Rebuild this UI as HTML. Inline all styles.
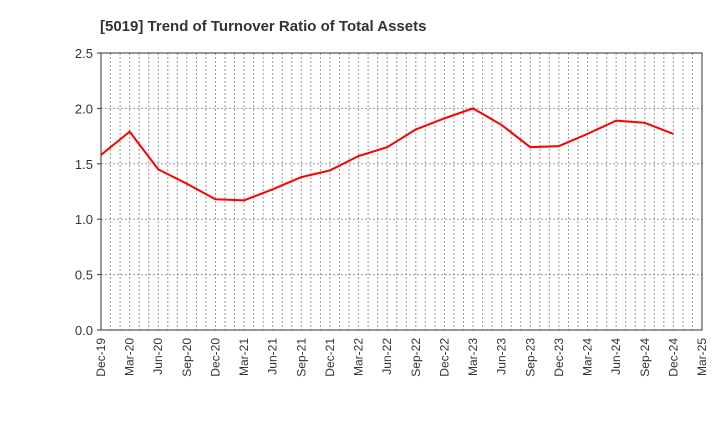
<!DOCTYPE html>
<html><head><meta charset="utf-8"><style>body{margin:0;background:#fff}svg{font-family:"Liberation Sans",sans-serif}</style></head>
<body>
<svg id="c" width="720" height="440">
<text x="100" y="31" font-size="15" font-weight="bold" fill="#333">[5019]  Trend of Turnover Ratio of Total Assets</text>
</svg>
<script>
const categories=["Dec-19","Mar-20","Jun-20","Sep-20","Dec-20","Mar-21","Jun-21","Sep-21","Dec-21","Mar-22","Jun-22","Sep-22","Dec-22","Mar-23","Jun-23","Sep-23","Dec-23","Mar-24","Jun-24","Sep-24","Dec-24","Mar-25"];
const values=[1.58,1.79,1.45,1.32,1.18,1.17,1.27,1.38,1.44,1.57,1.65,1.81,1.91,2.00,1.85,1.65,1.66,1.77,1.89,1.87,1.77];
const yTicks=[0.0,0.5,1.0,1.5,2.0,2.5];
const svg=document.getElementById('c');const NS='http://www.w3.org/2000/svg';
const L=101,R=702,T=53,B=330;
const x=i=>L+(R-L)*i/(categories.length-1);
const y=v=>B-(B-T)*v/2.5;
function mk(t,a){const e=document.createElementNS(NS,t);for(const k in a)e.setAttribute(k,a[k]);svg.appendChild(e);return e;}
for(let m=1;m<(categories.length-1)*3;m++){const xx=L+(R-L)*m/((categories.length-1)*3);
const g=mk('line',{x1:xx,x2:xx,y1:T,y2:B,stroke:'#999','stroke-dasharray':'2,2'});

}
yTicks.forEach(v=>{if(v>0&&v<2.5){const g=mk('line',{x1:L,x2:R,y1:y(v),y2:y(v),stroke:'#999','stroke-dasharray':'2,2'});

}
const t=mk('text',{x:L-8,y:y(v)+5,'text-anchor':'end','font-size':13,fill:'#333'});t.textContent=v.toFixed(1);


const tk=mk('line',{x1:L-4,x2:L,y1:y(v),y2:y(v),stroke:'#333'});

});
const fr=mk('rect',{x:L,y:T,width:R-L,height:B-T,fill:'none',stroke:'#333'});


categories.forEach((c,i)=>{const t=mk('text',{x:0,y:0,'text-anchor':'end','font-size':12,fill:'#333',transform:`translate(${x(i)+4},${B+8}) rotate(-90)`});t.textContent=c;

});
const p=mk('polyline',{points:values.map((v,i)=>x(i)+','+y(v)).join(' '),fill:'none',stroke:'#ff0000','stroke-width':2});


</script>
</body></html>
